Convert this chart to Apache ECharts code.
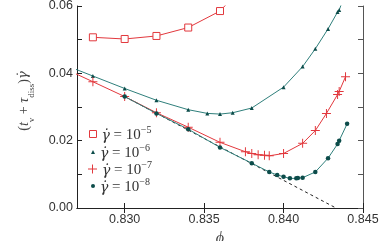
<!DOCTYPE html>
<html><head><meta charset="utf-8">
<script src="https://cdn.jsdelivr.net/npm/echarts@6/dist/echarts.min.js"></script>
<style>html,body{margin:0;padding:0;background:#fff}#c{width:382px;height:241px}</style>
</head><body><div id="c"></div>
<script>
var xTicks = [0.830, 0.835, 0.840, 0.845];
var legendExp = ['−5', '−6', '−7', '−8'];
var phi5 = [0.828, 0.830, 0.832, 0.834, 0.836, 0.837];
var y5 = [0.0507, 0.0502, 0.0511, 0.0536, 0.0585, 0.0635];
var phi6 = [0.826, 0.828, 0.830, 0.832, 0.834, 0.8352, 0.836, 0.8368, 0.838, 0.840, 0.8412, 0.842, 0.8428, 0.8434, 0.8435, 0.8438];
var y6 = [0.0429, 0.0392, 0.0355, 0.0320, 0.0292, 0.0281, 0.0279, 0.0283, 0.0297, 0.0359, 0.0420, 0.0473, 0.0532, 0.0582, 0.0588, 0.0625];
var phi7 = [0.826, 0.828, 0.830, 0.832, 0.834, 0.836, 0.8376, 0.838, 0.8384, 0.8388, 0.8391, 0.840, 0.8412, 0.842, 0.8427, 0.8434, 0.8435, 0.8439];
var y7 = [0.0419, 0.0375, 0.0331, 0.0283, 0.0240, 0.0195, 0.0167, 0.0162, 0.0158, 0.0157, 0.0155, 0.0162, 0.0192, 0.0230, 0.0281, 0.0337, 0.0346, 0.0390];
var phi8 = [0.830, 0.832, 0.834, 0.836, 0.838, 0.8391, 0.8396, 0.840, 0.8404, 0.8408, 0.8409, 0.8412, 0.842, 0.8428, 0.8434, 0.8435, 0.8440];
var y8 = [0.0331, 0.0281, 0.0234, 0.0180, 0.0133, 0.0107, 0.0098, 0.0093, 0.0088, 0.0088, 0.0089, 0.0090, 0.0107, 0.0148, 0.0190, 0.0200, 0.0250];
var fitPhi = [0.830, 0.8433];
var fitY = [0.0331, 0.0];

function zip(a, b) { return a.map(function (v, i) { return [v, b[i]]; }); }
var RED = '#e2383d', TEAL = '#2f7f7b', DARK = '#0c4c4a';
var PLUS = 'path://M4.45,0H5.55V10H4.45ZM0,4.45H10V5.55H0Z';
var names = ['g5', 'g6', 'g7', 'g8'];
var richLeg = {
  g: {fontFamily: 'DejaVu Serif', fontStyle: 'italic', fontSize: 14, color: '#333', lineHeight: 18, verticalAlign: 'bottom'},
  t: {fontFamily: 'Liberation Serif', fontSize: 15, color: '#333', lineHeight: 18, verticalAlign: 'bottom'},
  s: {fontFamily: 'Liberation Serif', fontSize: 10, color: '#333', lineHeight: 18, verticalAlign: 'top'}
};
function legFmt(name) { var i = names.indexOf(name); return '{g|γ̇}{t| = 10}{s|' + legendExp[i] + '}'; }
function mkLegend(i, top, left, w, icon, style) {
  return {orient: 'vertical', left: left, top: top, itemWidth: w, itemHeight: w, itemGap: 0, padding: 0,
    data: [{name: names[i], icon: icon, itemStyle: style}], formatter: legFmt, textStyle: {rich: richLeg, padding: [0,0,0,0]}, selectedMode: false};
}
var chart = echarts.init(document.getElementById('c'));
chart.setOption({
  animation: false,
  grid: {left: 77, right: 19, top: 6, bottom: 33, outerBoundsMode: 'none', containLabel: false},
  legend: [
    mkLegend(0, 125, 89, 7, 'rect', {color: '#fff', borderColor: RED, borderWidth: 1}),
    mkLegend(1, 143, 91, 4, 'triangle', {color: DARK}),
    mkLegend(2, 160, 88, 9, PLUS, {color: RED}),
    mkLegend(3, 177, 91, 4, 'circle', {color: DARK})
  ],
  xAxis: [{
    type: 'value', min: 0.827, max: 0.845, position: 'bottom',
    name: 'ϕ', nameLocation: 'middle', nameGap: 15,
    nameTextStyle: {fontFamily: 'Liberation Serif', fontStyle: 'italic', fontSize: 16, color: '#444', verticalAlign: 'top'},
    axisLine: {lineStyle: {color: '#222'}},
    axisTick: {inside: true, length: 5, customValues: xTicks, lineStyle: {color: '#222'}},
    axisLabel: {customValues: xTicks, color: '#333', fontSize: 12.5, fontFamily: 'Liberation Sans', margin: 5,
      formatter: function (v) { return v.toFixed(3); }},
    splitLine: {show: false}
  }, {
    type: 'value', min: 0.827, max: 0.845, position: 'top',
    axisLine: {lineStyle: {color: '#222'}},
    axisTick: {inside: true, length: 5, customValues: xTicks, lineStyle: {color: '#222'}},
    axisLabel: {show: false}, splitLine: {show: false}
  }],
  yAxis: [{
    type: 'value', min: 0, max: 0.06, interval: 0.01, position: 'left',
    name: '{p|(}{i|t}{sb|v}{p| + }{i|τ}{sb|diss}{p|)}{g|γ̇}', nameLocation: 'middle', nameGap: 41,
    nameTextStyle: {padding: [0, 0, 0, 12], rich: {
      p: {fontFamily: 'Liberation Serif', fontSize: 14, color: '#444', lineHeight: 19, verticalAlign: 'top'},
      i: {fontFamily: 'Liberation Serif', fontStyle: 'italic', fontSize: 14, color: '#444', lineHeight: 19, verticalAlign: 'top'},
      g: {fontFamily: 'DejaVu Serif', fontStyle: 'italic', fontSize: 13, color: '#444', lineHeight: 19, verticalAlign: 'top'},
      sb: {fontFamily: 'Liberation Serif', fontSize: 9, color: '#444', lineHeight: 19, verticalAlign: 'bottom'}
    }},
    axisLine: {show: true, lineStyle: {color: '#222'}},
    axisTick: {show: true, inside: true, length: 5, lineStyle: {color: '#222'}},
    axisLabel: {color: '#333', fontSize: 12.5, fontFamily: 'Liberation Sans', margin: 4,
      formatter: function (v) { var k = Math.round(v * 100); return k % 2 === 0 ? v.toFixed(2) : ''; }},
    splitLine: {show: false}
  }, {
    type: 'value', min: 0, max: 0.06, interval: 0.01, position: 'right',
    axisLine: {show: true, lineStyle: {color: '#555'}},
    axisTick: {show: true, inside: true, length: 5, lineStyle: {color: '#555'}},
    axisLabel: {show: false}, splitLine: {show: false}
  }],
  series: [
    {name: 'fit', type: 'line', data: zip(fitPhi, fitY), symbol: 'none', silent: true, z: 1,
      lineStyle: {color: '#222', width: 1, type: [3, 3]}},
    {name: 'g5', type: 'line', data: zip(phi5, y5), clip: true, symbol: 'rect', symbolSize: 7,
      itemStyle: {color: '#fff', borderColor: RED, borderWidth: 1}, lineStyle: {color: RED, width: 1}},
    {name: 'g6', type: 'line', data: zip(phi6, y6), clip: true, symbol: 'triangle', symbolSize: 4,
      itemStyle: {color: DARK}, lineStyle: {color: TEAL, width: 1}},
    {name: 'g7', type: 'line', data: zip(phi7, y7), clip: true, symbol: PLUS, symbolSize: 9,
      itemStyle: {color: RED}, lineStyle: {color: RED, width: 1}},
    {name: 'g8', type: 'line', data: zip(phi8, y8), clip: true, symbol: 'circle', symbolSize: 4.5,
      itemStyle: {color: DARK}, lineStyle: {color: TEAL, width: 1}}
  ]
});
</script></body></html>
